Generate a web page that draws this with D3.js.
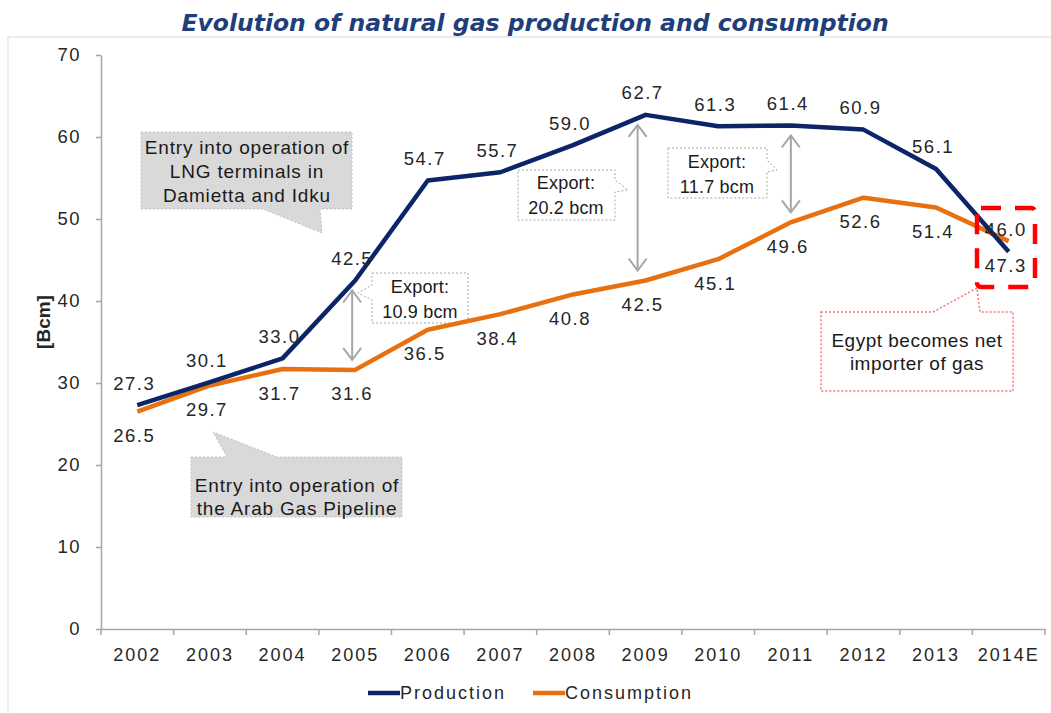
<!DOCTYPE html>
<html>
<head>
<meta charset="utf-8">
<script src="https://cdn.jsdelivr.net/npm/d3@7"></script>
<style>
  body { margin: 0; background: #fff; }
  text { font-family: "Liberation Sans", Arial, sans-serif; }
</style>
</head>
<body>
<div id="chart"></div>
<script>
// data
var years = ["2002","2003","2004","2005","2006","2007","2008","2009","2010","2011","2012","2013","2014E"];
var production = [27.3, 30.1, 33.0, 42.5, 54.7, 55.7, 59.0, 62.7, 61.3, 61.4, 60.9, 56.1, 46.0];
var consumption = [26.5, 29.7, 31.7, 31.6, 36.5, 38.4, 40.8, 42.5, 45.1, 49.6, 52.6, 51.4, 47.3];
var yTicks = [0, 10, 20, 30, 40, 50, 60, 70];
var exportYears = ["2005", "2009", "2011"];
var exportLabels = ["10.9 bcm", "20.2 bcm", "11.7 bcm"];

var w = 1051, h = 713;
var prodColor = "#0c2468", consColor = "#e8700f", textColor = "#262626", axisColor = "#a6a6a6";

var svg = d3.select("#chart").append("svg")
    .attr("width", w)
    .attr("height", h);

// outer frame
svg.append("rect")
    .attr("x", 8).attr("y", 37)
    .attr("width", w).attr("height", h)
    .attr("fill", "none")
    .attr("stroke", "#d9d9d9");

// title
svg.append("text")
    .attr("x", 535).attr("y", 31)
    .attr("text-anchor", "middle")
    .style("font-family", "'DejaVu Sans', sans-serif")
    .attr("font-size", "23.5px")
    .attr("font-weight", "bold")
    .attr("font-style", "italic")
    .attr("fill", "#1f3f7a")
    .text("Evolution of natural gas production and consumption");

var xScale = d3.scaleBand()
    .domain(years)
    .range([101, 1045]);

var yScale = d3.scaleLinear()
    .domain([0, 70])
    .range([629, 55]);

function cx(d) { return xScale(d) + xScale.bandwidth() / 2; }

// Y axis
var yAxis = d3.axisLeft(yScale)
    .tickValues(yTicks)
    .tickSize(5)
    .tickSizeOuter(0)
    .tickPadding(15);

var gy = svg.append("g")
    .attr("transform", "translate(101,0)")
    .call(yAxis);
gy.select(".domain").attr("stroke", axisColor).attr("stroke-width", 1.5);
gy.selectAll(".tick line").attr("stroke", axisColor).attr("stroke-width", 1.5);
gy.selectAll(".tick text")
    .attr("font-size", "18.5px")
    .attr("letter-spacing", "1.5px")
    .attr("fill", textColor);

// X axis (ticks between categories)
var xAxis = d3.axisBottom(xScale).tickSize(0).tickSizeOuter(0).tickPadding(19);
var gx = svg.append("g")
    .attr("transform", "translate(0,629)")
    .call(xAxis);
gx.select(".domain").attr("stroke", axisColor).attr("stroke-width", 1.5);
gx.selectAll(".tick text")
    .attr("font-size", "18px")
    .attr("letter-spacing", "2px")
    .attr("fill", textColor);
gx.selectAll(".sep")
    .data(years.concat(["end"]))
    .enter()
    .append("line")
    .attr("x1", function(d, i) { return xScale.range()[0] + i * xScale.step(); })
    .attr("x2", function(d, i) { return xScale.range()[0] + i * xScale.step(); })
    .attr("y1", 0).attr("y2", 6)
    .attr("stroke", axisColor)
    .attr("stroke-width", 1.5);

// Y axis title
svg.append("text")
    .attr("transform", "translate(43,322) rotate(-90)")
    .attr("text-anchor", "middle")
    .attr("dominant-baseline", "central")
    .attr("font-size", "19px")
    .attr("font-weight", "bold")
    .attr("fill", textColor)
    .text("[Bcm]");

// annotations behind lines
// LNG callout
svg.append("path")
    .attr("d", "M141,132 H352 V209 H320 L322,233 L263,209 H141 Z")
    .attr("fill", "#d9d9d9")
    .attr("stroke", "#bfbfbf")
    .attr("stroke-dasharray", "2,2");
["Entry into operation of", "LNG terminals in", "Damietta and Idku"].forEach(function(t, i) {
  svg.append("text")
     .attr("x", 247).attr("y", 147 + i * 24)
     .attr("text-anchor", "middle")
     .attr("dominant-baseline", "central")
     .attr("font-size", "19px")
     .attr("letter-spacing", "0.8px")
     .attr("fill", "#1a1a1a")
     .text(t);
});

// Arab Gas Pipeline callout
svg.append("path")
    .attr("d", "M191,457 H227 L213,432 L277,457 H402 V517 H191 Z")
    .attr("fill", "#d9d9d9")
    .attr("stroke", "#bfbfbf")
    .attr("stroke-dasharray", "2,2");
["Entry into operation of", "the Arab Gas Pipeline"].forEach(function(t, i) {
  svg.append("text")
     .attr("x", 297).attr("y", 485 + i * 23)
     .attr("text-anchor", "middle")
     .attr("dominant-baseline", "central")
     .attr("font-size", "19px")
     .attr("letter-spacing", "0.8px")
     .attr("fill", "#1a1a1a")
     .text(t);
});

// export boxes
var exportBoxes = [
  "M372,273 H468 V323 H372 V300 L358,293 L372,285 Z",
  "M518,170 H615 V180 L628,190 L615,192 V220 H518 Z",
  "M668,148 H767 V160 L777,170 L767,172 V198 H668 Z"
];
var exportText = [[420, 287], [566, 183], [717, 162]];
exportBoxes.forEach(function(p, i) {
  svg.append("path")
     .attr("d", p)
     .attr("fill", "#fff")
     .attr("stroke", "#a6a6a6")
     .attr("stroke-dasharray", "2,2");
  ["Export:", exportLabels[i]].forEach(function(t, j) {
    svg.append("text")
       .attr("x", exportText[i][0]).attr("y", exportText[i][1] + j * 25)
       .attr("text-anchor", "middle")
       .attr("dominant-baseline", "central")
       .attr("font-size", "18px")
       .attr("letter-spacing", "0.2px")
       .attr("fill", "#1a1a1a")
       .text(t);
  });
});

// export arrows (between production and consumption)
var arrowShift = [-3, -8, 0];
exportYears.forEach(function(yr, i) {
  var k = years.indexOf(yr);
  var x = cx(yr) + arrowShift[i];
  var y1 = yScale(production[k]) + 10;
  var y2 = yScale(consumption[k]) - 10;
  var g = svg.append("g")
      .attr("stroke", "#a6a6a6")
      .attr("stroke-width", 2)
      .attr("fill", "none");
  g.append("line").attr("x1", x).attr("x2", x).attr("y1", y1).attr("y2", y2);
  g.append("polyline").attr("points", (x - 9) + "," + (y1 + 12) + " " + x + "," + y1 + " " + (x + 9) + "," + (y1 + 12));
  g.append("polyline").attr("points", (x - 9) + "," + (y2 - 12) + " " + x + "," + y2 + " " + (x + 9) + "," + (y2 - 12));
});

// Egypt callout
svg.append("path")
    .attr("d", "M821,312 H933 L977,288 L980,312 H1013 V391 H821 Z")
    .attr("fill", "#fff")
    .attr("stroke", "#ff7070")
    .attr("stroke-width", 1.5)
    .attr("stroke-dasharray", "2,2");
["Egypt becomes net", "importer of gas"].forEach(function(t, i) {
  svg.append("text")
     .attr("x", 917).attr("y", 340 + i * 23)
     .attr("text-anchor", "middle")
     .attr("dominant-baseline", "central")
     .attr("font-size", "19px")
     .attr("letter-spacing", "0.5px")
     .attr("fill", "#1a1a1a")
     .text(t);
});

// lines
var line = d3.line()
    .x(function(d, i) { return cx(years[i]); })
    .y(function(d) { return yScale(d); });

svg.append("path")
    .datum(consumption)
    .attr("d", line)
    .attr("fill", "none")
    .attr("stroke", consColor)
    .attr("stroke-width", 4.5)
    .attr("stroke-linejoin", "round");

svg.append("path")
    .datum(production)
    .attr("d", line)
    .attr("fill", "none")
    .attr("stroke", prodColor)
    .attr("stroke-width", 4.5)
    .attr("stroke-linejoin", "round");

// value labels
svg.selectAll(".plabel")
   .data(production)
   .enter()
   .append("text")
   .attr("x", function(d, i) { return cx(years[i]) - 3; })
   .attr("y", function(d) { return yScale(d) - 22; })
   .attr("text-anchor", "middle")
   .attr("dominant-baseline", "central")
   .attr("font-size", "18.5px")
   .attr("letter-spacing", "1.5px")
   .attr("fill", textColor)
   .text(function(d) { return d.toFixed(1); });

svg.selectAll(".clabel")
   .data(consumption)
   .enter()
   .append("text")
   .attr("x", function(d, i) { return cx(years[i]) - 3; })
   .attr("y", function(d) { return yScale(d) + 24; })
   .attr("text-anchor", "middle")
   .attr("dominant-baseline", "central")
   .attr("font-size", "18.5px")
   .attr("letter-spacing", "1.5px")
   .attr("fill", textColor)
   .text(function(d) { return d.toFixed(1); });

// red dashed highlight around 2014E labels
svg.append("rect")
    .attr("x", 977).attr("y", 208)
    .attr("width", 58).attr("height", 79)
    .attr("rx", 4)
    .attr("fill", "none")
    .attr("stroke", "#ff0000")
    .attr("stroke-width", 4.5)
    .attr("stroke-dasharray", "20,14");

// legend
var legend = [["Production", prodColor, 368], ["Consumption", consColor, 533]];
legend.forEach(function(l) {
  svg.append("line")
     .attr("x1", l[2]).attr("x2", l[2] + 32)
     .attr("y1", 693).attr("y2", 693)
     .attr("stroke", l[1])
     .attr("stroke-width", 4.5);
  svg.append("text")
     .attr("x", l[2] + 32).attr("y", 693)
     .attr("dominant-baseline", "central")
     .attr("font-size", "18px")
     .attr("letter-spacing", "2px")
     .attr("fill", textColor)
     .text(l[0]);
});
</script>
</body>
</html>
